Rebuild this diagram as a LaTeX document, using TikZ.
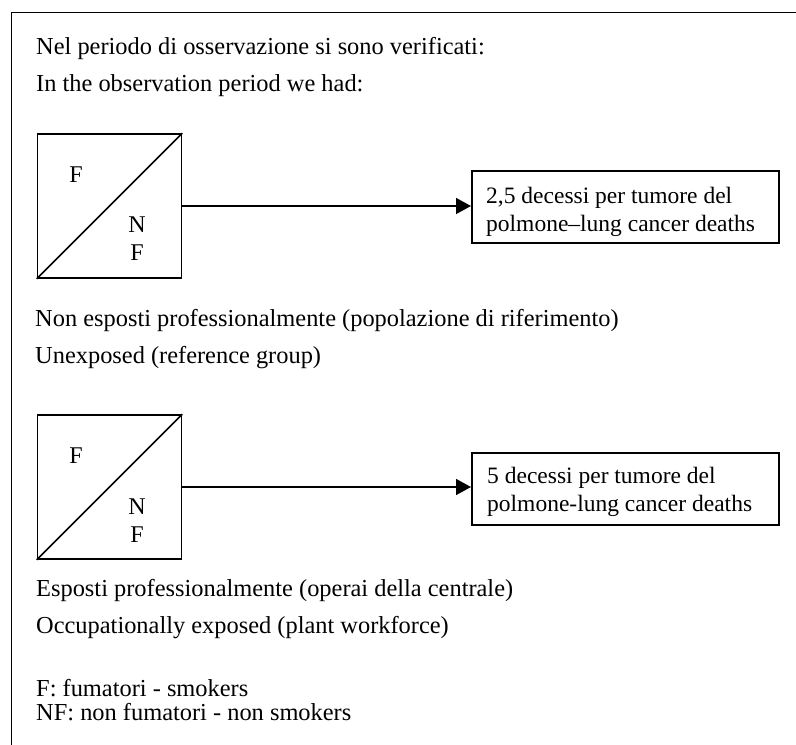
\documentclass[tikz,border=0pt]{standalone}
\usepackage{fontspec}
\setmainfont{Liberation Serif}
\usetikzlibrary{arrows.meta}
\tikzset{
  txt/.style={anchor=base west, inner sep=0pt, font=\fontsize{24.4}{28}\selectfont},
  btxt/.style={anchor=base west, inner sep=0pt, font=\fontsize{23.5}{28}\selectfont},
  lbl/.style={inner sep=0pt, font=\fontsize{24}{28}\selectfont},
  sqbox/.style={draw, line width=1.7pt, minimum width=144pt, minimum height=144pt, inner sep=0pt},
  resbox/.style={draw, line width=1.6pt, minimum width=307pt, minimum height=72pt, inner sep=0pt, anchor=north west},
  conn/.style={line width=1.5pt, -{Triangle[length=15pt,width=16pt]}},
  frame/.style={line width=1.5pt}
}
\begin{document}
\begin{tikzpicture}[x=1pt,y=-1pt]
\useasboundingbox (0,0) rectangle (796,745);
% frame
\coordinate (fb) at (11.5,745);
\coordinate (fc) at (11.5,12.5);
\coordinate (fr) at (796,12.5);
\draw[frame] (fb) -- (fc) -- (fr);

\node[txt] (h1) at (36,54) {Nel periodo di osservazione si sono verificati:};
\node[txt] (h2) at (36,91) {In the observation period we had:};

% group 1
\node[sqbox] (sq1) at (109.5,206) {};
\draw[line width=1.5pt] (sq1.south west) -- (sq1.north east);
\node[lbl] (f1) at (76,175) {F};
\node[lbl] (n1) at (137,225) {N};
\node[lbl] (ff1) at (137,253) {F};
\node[resbox] (b1) at (471,170) {};
\node[btxt] (b1a) at (486,203) {2,5 decessi per tumore del};
\node[btxt] (b1b) at (486,231) {polmone--lung cancer deaths};
\draw[conn] (sq1.east) -- (sq1.east -| b1.west);
\node[txt] (g1a) at (35,326) {Non esposti professionalmente (popolazione di riferimento)};
\node[txt] (g1b) at (35,363) {Unexposed (reference group)};

% group 2
\node[sqbox] (sq2) at (109.5,487) {};
\draw[line width=1.5pt] (sq2.south west) -- (sq2.north east);
\node[lbl] (f2) at (76,456) {F};
\node[lbl] (n2) at (137,507) {N};
\node[lbl] (ff2) at (137,535) {F};
\node[resbox] (b2) at (471,452) {};
\node[btxt] (b2a) at (487,483) {5 decessi per tumore del};
\node[btxt] (b2b) at (487,511) {polmone-lung cancer deaths};
\draw[conn] (sq2.east) -- (sq2.east -| b2.west);
\node[txt] (g2a) at (36,596) {Esposti professionalmente (operai della centrale)};
\node[txt] (g2b) at (36,633) {Occupationally exposed (plant workforce)};

% legend
\node[txt] (l1) at (36,696) {F: fumatori - smokers};
\node[txt] (l2) at (36,720) {NF: non fumatori - non smokers};
\end{tikzpicture}
\end{document}
